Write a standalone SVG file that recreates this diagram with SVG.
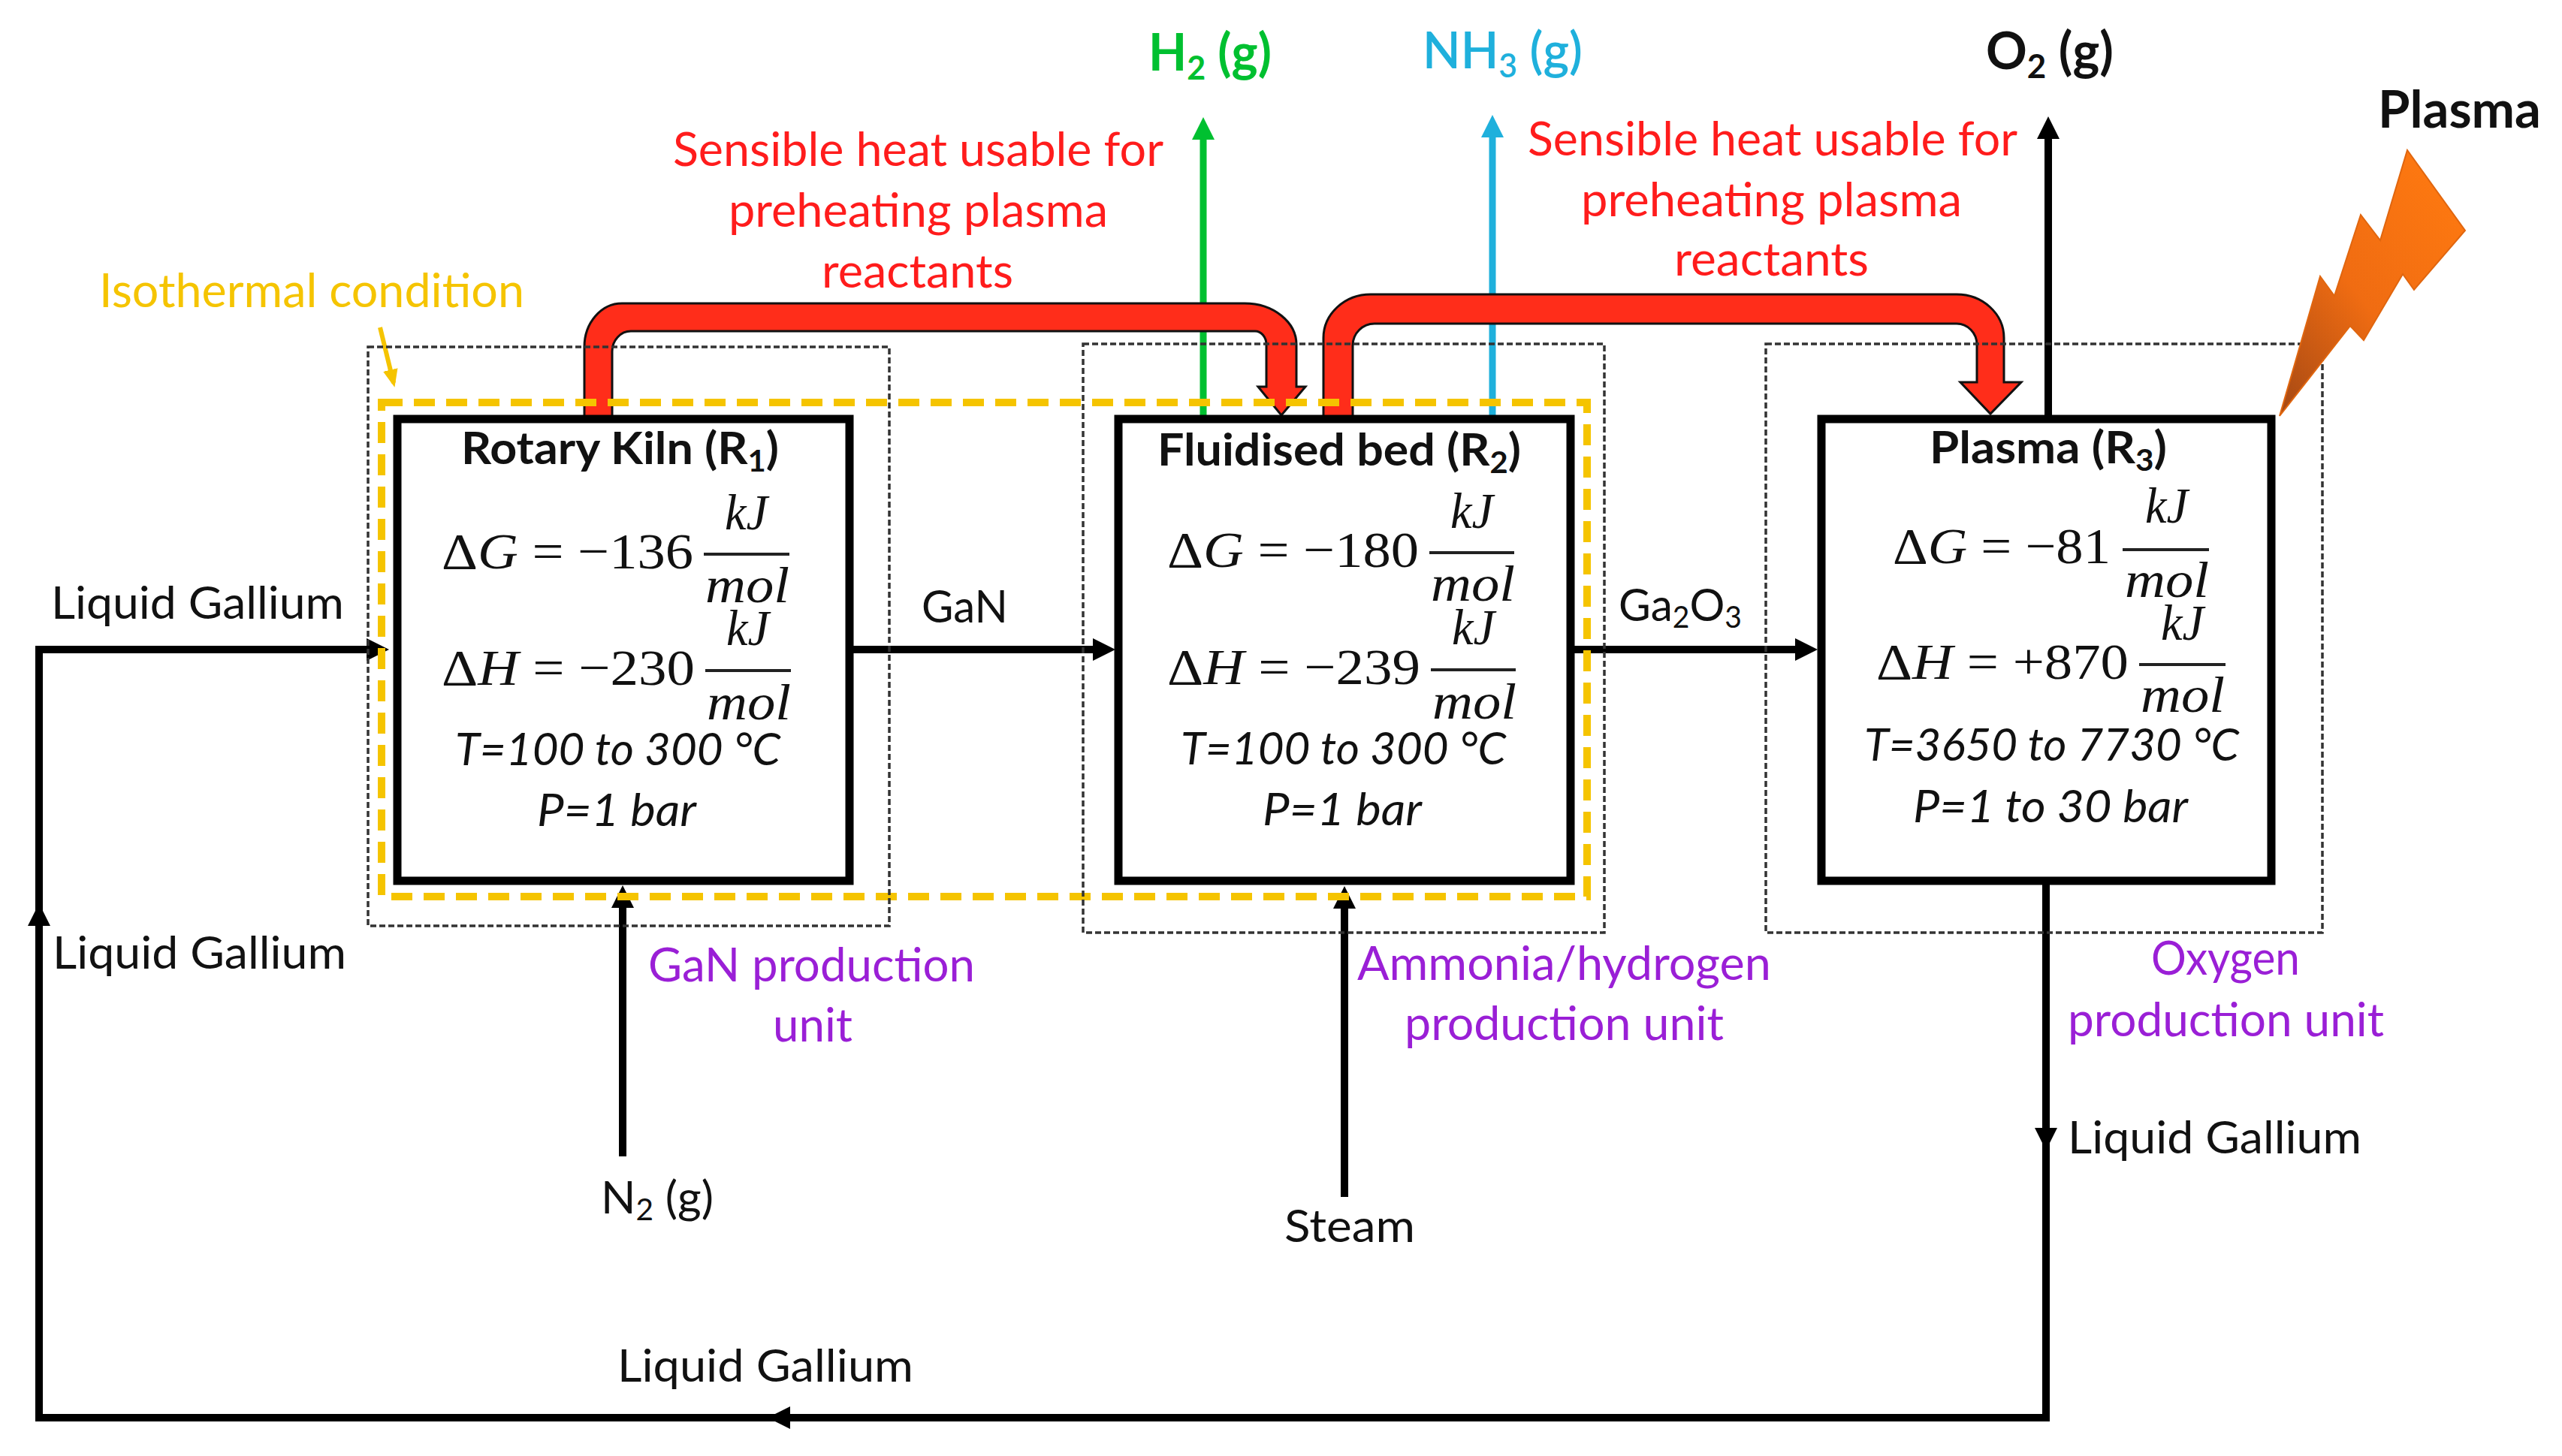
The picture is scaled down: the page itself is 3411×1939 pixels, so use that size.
<svg xmlns="http://www.w3.org/2000/svg" width="3411" height="1939" viewBox="0 0 3411 1939">
<style>
text{font-family:"Lato","Carlito","Open Sans",sans-serif;font-size:60px;fill:#111;}
.b{font-weight:700;}
.h{font-size:68px;font-weight:700;}
.i{font-style:italic;}
.m{font-family:"Liberation Serif","Times New Roman",serif;font-size:68px;}
.v{font-style:italic;}
.red{fill:#ff1c1c;font-size:62px;}
.pur{fill:#9a1fd6;font-size:62px;}
.yel{fill:#f5c400;font-size:62px;}
.box{fill:none;stroke:#000;stroke-width:11;}
.unit{fill:none;stroke:#333;stroke-width:3.5;stroke-dasharray:8 4;}
.frac{stroke:#222;stroke-width:4;}
.flow{fill:none;stroke:#000;stroke-width:10;marker-end:url(#ak);}
.heat{fill:#ff2d1a;stroke:#111;stroke-width:3;}
</style>
<defs>
<marker id="ak" markerUnits="userSpaceOnUse" markerWidth="32" markerHeight="32" refX="20" refY="15" orient="auto"><path d="M0,0L30,15L0,30Z" fill="#000"/></marker>
<marker id="ag" markerUnits="userSpaceOnUse" markerWidth="32" markerHeight="32" refX="20" refY="15" orient="auto"><path d="M0,0L30,15L0,30Z" fill="#00c030"/></marker>
<marker id="ac" markerUnits="userSpaceOnUse" markerWidth="32" markerHeight="32" refX="20" refY="15" orient="auto"><path d="M0,0L30,15L0,30Z" fill="#1fb0dc"/></marker>
<marker id="ay" markerUnits="userSpaceOnUse" markerWidth="30" markerHeight="30" refX="18" refY="10" orient="auto"><path d="M0,0L24,10L0,20Z" fill="#f5c400"/></marker>
<linearGradient id="bolt" x1="0.9" y1="0" x2="0.05" y2="1"><stop offset="0" stop-color="#ff7a10"/><stop offset="0.55" stop-color="#f06c12"/><stop offset="1" stop-color="#a84a14"/></linearGradient>
</defs>
<rect width="3411" height="1939" fill="#fff"/>

<g id="connectors">
<path d="M1602,558V166" fill="none" stroke="#00c030" stroke-width="9" marker-end="url(#ag)"/>
<path d="M1987,558V163" fill="none" stroke="#1fb0dc" stroke-width="9" marker-end="url(#ac)"/>
<path class="flow" d="M2727,556V165"/>
<path class="heat" d="M778,557V462A50,58 0 0 1 828,404H1657A69,55 0 0 1 1726,460V515H1738L1706,553L1675,515H1686V459A15,18 0 0 0 1671,441H840A25,27 0 0 0 815,468V557Z"/>
<path class="heat" d="M1762,557V450A63,58 0 0 1 1825,392H2605A63,58 0 0 1 2668,450V509H2691L2650,551L2610,509H2632V459A27,28 0 0 0 2605,431H1830A29,29 0 0 0 1801,460V557Z"/>
<path class="flow" d="M1131,865H1475"/>
<path class="flow" d="M2091,865H2410"/>
<path class="flow" d="M829,1540V1189"/>
<path class="flow" d="M1790,1594V1190"/>
<path class="flow" d="M2724,1173V1522"/>
<path class="flow" d="M2724,1522V1888H1032"/>
<path class="flow" d="M1032,1888H52V1213"/>
<path class="flow" d="M52,1213V865H508"/>
<path d="M506,436L524,510" fill="none" stroke="#f5c400" stroke-width="6" marker-end="url(#ay)"/>
</g>

<g id="isothermal-frame"><rect x="508" y="536" width="1605" height="658" fill="none" stroke="#f5c400" stroke-width="10" stroke-dasharray="28 15"/>
<text class="yel" x="132" y="409" textLength="566" lengthAdjust="spacingAndGlyphs">Isothermal condition</text></g>

<g id="unit-gan"><rect class="unit" x="490" y="462" width="694" height="771"/>
<text class="pur" x="863" y="1307" textLength="435" lengthAdjust="spacingAndGlyphs">GaN production</text>
<text class="pur" x="1029" y="1387" textLength="106" lengthAdjust="spacingAndGlyphs">unit</text></g>
<g id="unit-ammonia"><rect class="unit" x="1442" y="458" width="694" height="784"/>
<text class="pur" x="1807" y="1305" textLength="551" lengthAdjust="spacingAndGlyphs">Ammonia/hydrogen</text>
<text class="pur" x="1870" y="1385" textLength="425" lengthAdjust="spacingAndGlyphs">production unit</text></g>
<g id="unit-oxygen"><rect class="unit" x="2351" y="458" width="741" height="784"/>
<text class="pur" x="2864" y="1298" textLength="198" lengthAdjust="spacingAndGlyphs">Oxygen</text>
<text class="pur" x="2753" y="1380" textLength="421" lengthAdjust="spacingAndGlyphs">production unit</text></g>

<g id="r1">
<rect class="box" x="529" y="558" width="602" height="615"/>
<text class="b" x="614" y="618" textLength="423" lengthAdjust="spacingAndGlyphs">Rotary Kiln (R<tspan dy="10" font-size="40">1</tspan><tspan dy="-10">)</tspan></text>
<text class="m" x="588" y="757" textLength="335" lengthAdjust="spacingAndGlyphs">Δ<tspan class="v">G</tspan> = −136</text>
<text class="m v" x="965" y="705" textLength="57" lengthAdjust="spacingAndGlyphs">kJ</text>
<line class="frac" x1="937" y1="738" x2="1051" y2="738"/>
<text class="m v" x="939" y="802" textLength="112" lengthAdjust="spacingAndGlyphs">mol</text>
<text class="m" x="588" y="912" textLength="337" lengthAdjust="spacingAndGlyphs">Δ<tspan class="v">H</tspan> = −230</text>
<text class="m v" x="967" y="859" textLength="57" lengthAdjust="spacingAndGlyphs">kJ</text>
<line class="frac" x1="939" y1="893" x2="1053" y2="893"/>
<text class="m v" x="941" y="958" textLength="112" lengthAdjust="spacingAndGlyphs">mol</text>
<text class="i" x="606" y="1019" textLength="433" lengthAdjust="spacingAndGlyphs">T=100 to 300 °C</text>
<text class="i" x="715" y="1100" textLength="212" lengthAdjust="spacingAndGlyphs">P=1 bar</text>
</g>

<g id="r2">
<rect class="box" x="1489" y="558" width="602" height="615"/>
<text class="b" x="1541" y="620" textLength="484" lengthAdjust="spacingAndGlyphs">Fluidised bed (R<tspan dy="10" font-size="40">2</tspan><tspan dy="-10">)</tspan></text>
<text class="m" x="1554" y="755" textLength="335" lengthAdjust="spacingAndGlyphs">Δ<tspan class="v">G</tspan> = −180</text>
<text class="m v" x="1931" y="703" textLength="57" lengthAdjust="spacingAndGlyphs">kJ</text>
<line class="frac" x1="1903" y1="736" x2="2016" y2="736"/>
<text class="m v" x="1905" y="800" textLength="112" lengthAdjust="spacingAndGlyphs">mol</text>
<text class="m" x="1554" y="911" textLength="337" lengthAdjust="spacingAndGlyphs">Δ<tspan class="v">H</tspan> = −239</text>
<text class="m v" x="1933" y="858" textLength="57" lengthAdjust="spacingAndGlyphs">kJ</text>
<line class="frac" x1="1905" y1="892" x2="2018" y2="892"/>
<text class="m v" x="1907" y="957" textLength="112" lengthAdjust="spacingAndGlyphs">mol</text>
<text class="i" x="1572" y="1018" textLength="433" lengthAdjust="spacingAndGlyphs">T=100 to 300 °C</text>
<text class="i" x="1681" y="1099" textLength="212" lengthAdjust="spacingAndGlyphs">P=1 bar</text>
</g>

<g id="r3">
<rect class="box" x="2425" y="558" width="599" height="615"/>
<text class="b" x="2569" y="617" textLength="316" lengthAdjust="spacingAndGlyphs">Plasma (R<tspan dy="10" font-size="40">3</tspan><tspan dy="-10">)</tspan></text>
<text class="m" x="2520" y="750" textLength="290" lengthAdjust="spacingAndGlyphs">Δ<tspan class="v">G</tspan> = −81</text>
<text class="m v" x="2856" y="696" textLength="57" lengthAdjust="spacingAndGlyphs">kJ</text>
<line class="frac" x1="2826" y1="732" x2="2941" y2="732"/>
<text class="m v" x="2829" y="795" textLength="112" lengthAdjust="spacingAndGlyphs">mol</text>
<text class="m" x="2498" y="904" textLength="336" lengthAdjust="spacingAndGlyphs">Δ<tspan class="v">H</tspan> = +870</text>
<text class="m v" x="2877" y="852" textLength="57" lengthAdjust="spacingAndGlyphs">kJ</text>
<line class="frac" x1="2848" y1="885" x2="2963" y2="885"/>
<text class="m v" x="2850" y="948" textLength="112" lengthAdjust="spacingAndGlyphs">mol</text>
<text class="i" x="2482" y="1013" textLength="499" lengthAdjust="spacingAndGlyphs">T=3650 to 7730 °C</text>
<text class="i" x="2547" y="1095" textLength="366" lengthAdjust="spacingAndGlyphs">P=1 to 30 bar</text>
</g>

<g id="plasma-source">
<polygon points="3035,554 3089,368 3108,394 3143,286 3169,320 3205,200 3282,307 3214,386 3199,365 3147,453 3129,434" fill="url(#bolt)" stroke="#e0660f" stroke-width="2"/>
<text class="h" x="3166" y="170" textLength="217" lengthAdjust="spacingAndGlyphs">Plasma</text>
</g>

<g id="h2-output"><text class="h" x="1529" y="94" textLength="164" lengthAdjust="spacingAndGlyphs" style="fill:#00c030">H<tspan dy="12" font-size="44">2</tspan><tspan dy="-12"> (g)</tspan></text></g>
<g id="nh3-output"><text class="h" x="1894" y="91" textLength="213" lengthAdjust="spacingAndGlyphs" style="fill:#1fb0dc;font-weight:600">NH<tspan dy="12" font-size="44">3</tspan><tspan dy="-12"> (g)</tspan></text></g>
<g id="o2-output"><text class="h" x="2644" y="92" textLength="170" lengthAdjust="spacingAndGlyphs">O<tspan dy="12" font-size="44">2</tspan><tspan dy="-12"> (g)</tspan></text></g>

<g id="heat-label-1">
<text class="red" x="896" y="221" textLength="653" lengthAdjust="spacingAndGlyphs">Sensible heat usable for</text>
<text class="red" x="970" y="302" textLength="505" lengthAdjust="spacingAndGlyphs">preheating plasma</text>
<text class="red" x="1094" y="383" textLength="255" lengthAdjust="spacingAndGlyphs">reactants</text>
</g>
<g id="heat-label-2">
<text class="red" x="2034" y="207" textLength="652" lengthAdjust="spacingAndGlyphs">Sensible heat usable for</text>
<text class="red" x="2105" y="288" textLength="507" lengthAdjust="spacingAndGlyphs">preheating plasma</text>
<text class="red" x="2229" y="367" textLength="259" lengthAdjust="spacingAndGlyphs">reactants</text>
</g>

<g id="flow-labels">
<text x="68" y="824" textLength="390" lengthAdjust="spacingAndGlyphs">Liquid Gallium</text>
<text x="70" y="1290" textLength="391" lengthAdjust="spacingAndGlyphs">Liquid Gallium</text>
<text x="2753" y="1536" textLength="391" lengthAdjust="spacingAndGlyphs">Liquid Gallium</text>
<text x="822" y="1840" textLength="394" lengthAdjust="spacingAndGlyphs">Liquid Gallium</text>
<text x="1227" y="829" textLength="115" lengthAdjust="spacingAndGlyphs">GaN</text>
<text x="2155" y="827" textLength="164" lengthAdjust="spacingAndGlyphs">Ga<tspan dy="9" font-size="40">2</tspan><tspan dy="-9">O</tspan><tspan dy="9" font-size="40">3</tspan></text>
<text x="800" y="1616" textLength="150" lengthAdjust="spacingAndGlyphs">N<tspan dy="9" font-size="40">2</tspan><tspan dy="-9"> (g)</tspan></text>
<text x="1710" y="1654" textLength="174" lengthAdjust="spacingAndGlyphs">Steam</text>
</g>
</svg>
